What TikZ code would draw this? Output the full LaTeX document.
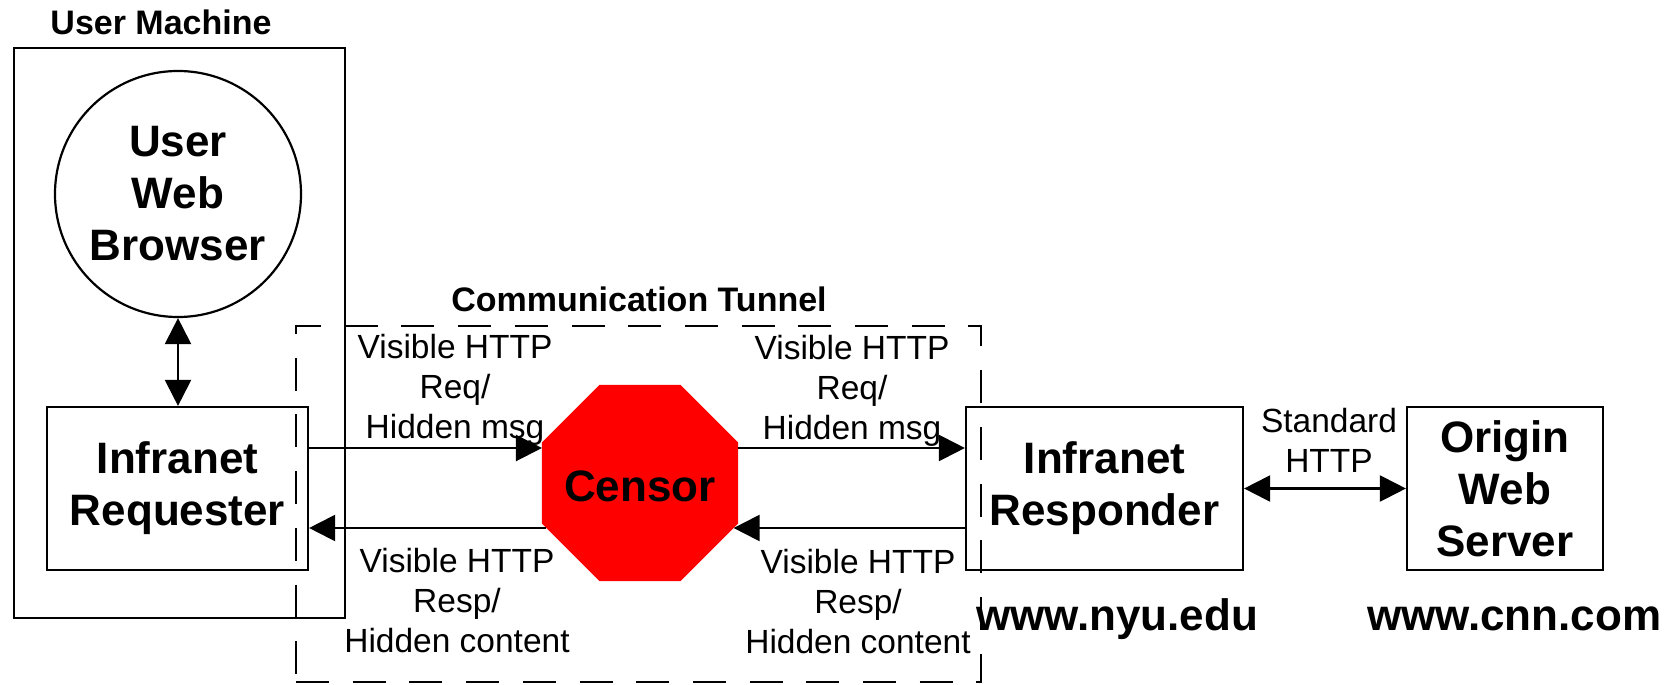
\documentclass[tikz,border=0pt]{standalone}
\usepackage{fontspec}
\setmainfont{Liberation Sans}
\usetikzlibrary{shapes.geometric,arrows.meta,calc}

\begin{document}
\begin{tikzpicture}[x=1pt,y=-1pt,
  line width=2.2pt,
  bigfont/.style={font=\bfseries\fontsize{44}{52}\selectfont},
  box/.style={draw, inner sep=0pt, align=center, bigfont},
  lbl/.style={inner sep=0pt, align=center, font=\fontsize{33.5}{40}\selectfont},
  title/.style={inner sep=0pt, font=\bfseries\fontsize{34}{40}\selectfont},
  tip/.style={-{Triangle[length=26pt,width=26pt]}},
  both/.style={{Triangle[length=26pt,width=26pt]}-{Triangle[length=26pt,width=26pt]}},
  tunnelline/.style={draw, dash pattern=on 33pt off 23.7pt},
]
\useasboundingbox (0,0) rectangle (1665,685);

% client side
\node[title] (umlabel) at (161,22) {User Machine};
\node[draw, inner sep=0pt, minimum width=331pt, minimum height=570pt] (um) at (179.5,333) {};
\node[circle, draw, inner sep=0pt, minimum size=246pt, align=center, bigfont] (browser) at (178,194) {User\\Web\\Browser};
\node[box, minimum width=261pt, minimum height=163pt] (req) at (177.5,488.5) {Infranet\\Requester};

% tunnel through the censor
\node[title] (tunlabel) at (639,299) {Communication Tunnel};
\node[tunnelline, inner sep=0pt, minimum width=685pt, minimum height=356pt] (tunnel) at (638.5,504) {};
\node[regular polygon, regular polygon sides=8, minimum size=212.2pt, inner sep=0pt, outer sep=0pt,
      fill={rgb,255:red,255;green,0;blue,0}] (censor) at (640,483) {};
\node[bigfont, inner sep=0pt] (censortext) at (640,486) {Censor};

% server side
\node[box, minimum width=277pt, minimum height=163pt] (resp) at (1104.5,488.5) {Infranet\\Responder};
\node[box, minimum width=196pt, minimum height=163pt] (origin) at (1505,488.5) {Origin\\Web\\Server};
\node[bigfont, inner sep=0pt, anchor=base] (nyu) at (1117,630) {www.nyu.edu};
\node[bigfont, inner sep=0pt, anchor=base west] (cnn) at (1366,630) {www.cnn.com};

% connector rows
\coordinate (ytop) at (0,448);
\coordinate (ybot) at (0,528);

\draw[both] (browser.south) -- (browser.south |- req.north);
\draw[tip] (req.east |- ytop) -- (censor.west |- ytop);
\draw[tip] (censor.east |- ytop) -- (resp.west |- ytop);
\draw[tip] (resp.west |- ybot) -- ($(censor.center)+(93.6,45)$);
\draw[tip] ($(censor.center)+(-93.6,45)$) -- (req.east |- ybot);
\draw[both] (resp.east) -- (origin.west);

% connector labels
\node[lbl] (l1) at (455,389.5) {Visible HTTP\\Req/\\Hidden msg};
\node[lbl] (l2) at (852,391) {Visible HTTP\\Req/\\Hidden msg};
\node[lbl] (l3) at (457,601) {Visible HTTP\\Resp/\\Hidden content};
\node[lbl] (l4) at (858,602) {Visible HTTP\\Resp/\\Hidden content};
\node[lbl] (l5) at (1329,440) {Standard\\HTTP};
\end{tikzpicture}
\end{document}
